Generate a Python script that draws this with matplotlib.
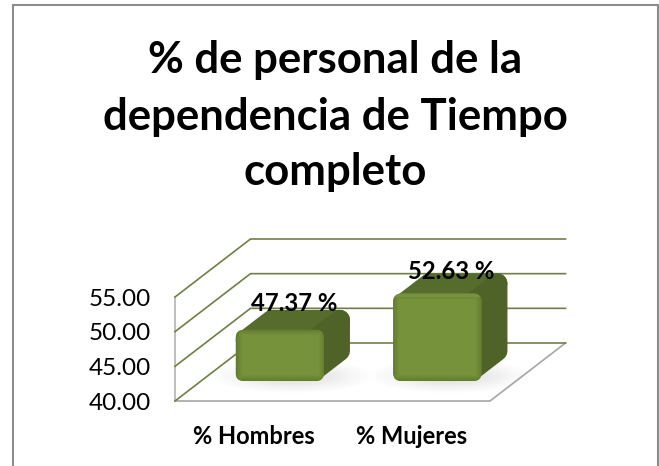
import numpy as np
import matplotlib
matplotlib.use("Agg")
import matplotlib.pyplot as plt
from matplotlib.patches import FancyBboxPatch, Polygon, Rectangle

# ---- data ----
categories = ["% Hombres", "% Mujeres"]
values = [47.37, 52.63]
value_labels = ["47.37 %", "52.63 %"]
y_ticks = [40.0, 45.0, 50.0, 55.0]
title_lines = ["% de personal de la", "dependencia de Tiempo", "completo"]

W, H = 659, 466
plt.rcParams["font.family"] = ["Lato", "DejaVu Sans"]
fig = plt.figure(figsize=(W / 100, H / 100), dpi=100, facecolor="white")

# front plane of the 3-D box, pixels
L, R, T, B = 175.0, 490.0, 297.0, 401.0
ax = fig.add_axes([L / W, 1 - B / H, (R - L) / W, (B - T) / H])
ax.set_xlim(0, len(categories))
ax.set_ylim(y_ticks[0], y_ticks[-1])
ax.patch.set_alpha(0)
for s in ax.spines.values():
    s.set_visible(False)

sx = (R - L) / len(categories)               # pixels per category
sy = (B - T) / (y_ticks[-1] - y_ticks[0])    # pixels per value unit
DX = 75.5 / sx                                # full depth in data units
DY = 58.0 / sy
grid_c, wall_c, floor_c = "#6f7f45", "#b3b3b3", "#a6a6a6"
x0, x1 = ax.get_xlim()
y0 = y_ticks[0]

# floor + walls
ax.plot([x0, x1, x1 + DX], [y0, y0, y0 + DY], color=floor_c, lw=1.2, clip_on=False, zorder=1)
ax.plot([x0, x0], [y_ticks[0], y_ticks[-1]], color=wall_c, lw=1.2, clip_on=False, zorder=1)
for v in y_ticks:
    ax.plot([x0, x0 + DX, x1 + DX], [v, v + DY, v + DY], color=grid_c, lw=1.2,
            clip_on=False, zorder=1.5, solid_joinstyle="miter")

# bars
bar_w = 0.56
d = 0.345            # share of the full depth at which the bar's front face sits
rad = 8.0            # front corner radius, px
rad_back = 10.0      # top and side corner radius, px
aspect = sx / sy
label_nudge_px = [6, 2]
for i, (v, lab) in enumerate(zip(values, value_labels)):
    xc = i + 0.5 + DX * d
    xa, xb = xc - bar_w / 2, xc + bar_w / 2
    ya, yb = y0 + DY * d, v + DY * d
    ox, oy = DX * d, DY * d

    # soft shadow on the floor
    gx = np.linspace(-1, 1, 200)
    gy = np.linspace(-1, 1, 60)
    XX, YY = np.meshgrid(gx, gy)
    a = np.clip(1.2 - np.sqrt(XX**2 + YY**2) * 1.2, 0, 1) ** 1.2 * 0.26
    img = np.dstack([np.full_like(a, 0.5)] * 3 + [a])
    ax.imshow(img, extent=[xa - 0.16, xb + ox + 0.16, ya - 1.9, ya + 3.2], aspect="auto",
              origin="lower", zorder=2, clip_on=False, interpolation="bilinear")

    lw = rad_back * 2 * 0.72   # stroke of twice the radius, in points, gives the round corners
    ix, iy = rad_back / sx, rad_back / sy
    # top
    ax.add_patch(Polygon([(xa + ix, yb - iy), (xb - ix, yb - iy),
                          (xb + ox - ix, yb + oy - iy), (xa + ox + ix, yb + oy - iy)],
                         closed=True, fc="#566c2d", ec="#566c2d", lw=lw, joinstyle="round",
                         zorder=3, clip_on=False))
    # side
    ax.add_patch(Polygon([(xb - ix, ya + iy), (xb + ox - ix, ya + oy + iy),
                          (xb + ox - ix, yb + oy - iy), (xb - ix, yb - iy)],
                         closed=True, fc="#4f6228", ec="#4f6228", lw=lw, joinstyle="round",
                         zorder=3.1, clip_on=False))
    # front, rounded with shading at the edges
    box = FancyBboxPatch((xa, ya), xb - xa, yb - ya,
                         boxstyle=f"round,pad=0,rounding_size={rad / sx}",
                         mutation_aspect=aspect, fc="#76923c", ec="none", zorder=3.2, clip_on=False)
    ax.add_patch(box)
    nx, ny = 120, 120
    u = np.minimum(np.linspace(0, 1, nx), 1 - np.linspace(0, 1, nx)) * (xb - xa) * sx
    w = np.minimum(np.linspace(0, 1, ny), 1 - np.linspace(0, 1, ny)) * (yb - ya) * sy
    dist = np.minimum.outer(w, u)
    shade = np.clip(dist / 6.0, 0, 1)[..., None]
    edge = np.array([0.38, 0.49, 0.18])
    mid = np.array([0.463, 0.573, 0.235])
    rgb = edge + (mid - edge) * shade
    im = ax.imshow(rgb, extent=[xa, xb, ya, yb], aspect="auto", origin="lower", zorder=3.3,
                   interpolation="bilinear", clip_on=True)
    im.set_clip_path(box)

    # value label
    ax.text(xc + ox / 2 + 1 / sx, yb + oy + label_nudge_px[i] / sy, lab, ha="center", va="center",
            fontsize=17.2, fontweight="bold", color="black", zorder=5, clip_on=False)

ax.set_xlim(x0, x1)
ax.set_ylim(y_ticks[0], y_ticks[-1])

# ticks
ax.set_yticks(y_ticks)
ax.set_yticklabels([f"{t:.2f}" for t in y_ticks], fontsize=17.5, color="black")
ax.tick_params(axis="y", length=0, pad=17)
ax.set_xticks([i + 0.5 for i in range(len(categories))])
ax.set_xticklabels(categories, fontsize=17.0, fontweight="bold", color="black")
ax.tick_params(axis="x", length=0, pad=17)

# title
for line, yp in zip(title_lines, [60, 117, 172]):
    fig.text(335 / W, 1 - yp / H, line, ha="center", va="center", fontsize=31.5,
             fontweight="bold", color="black")

# chart-area border
fig.add_artist(Rectangle((12.5 / W, -0.02), (658 - 12.5) / W, 1.02 - 5 / H, transform=fig.transFigure,
                         fill=False, ec="#8c8c8c", lw=1.5))

fig.savefig("out.png", dpi=100, facecolor="white")
